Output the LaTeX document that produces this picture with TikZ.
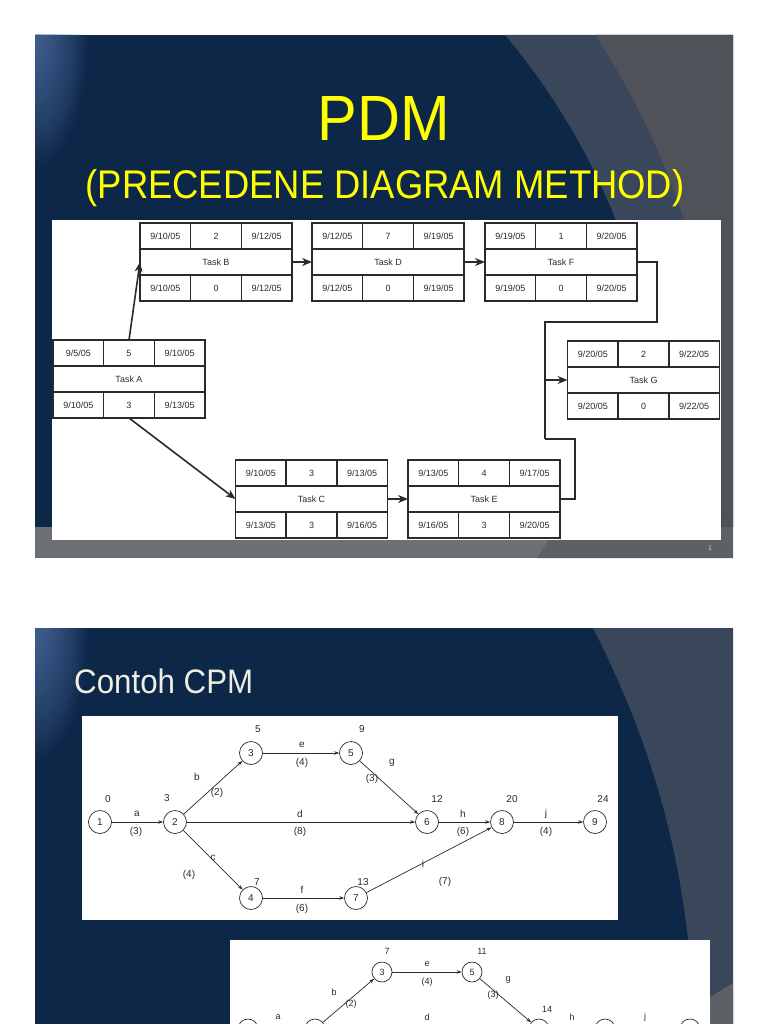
\documentclass[tikz,border=0pt]{standalone}
\usepackage{fontspec}
\setmainfont{Liberation Sans}
\usetikzlibrary{arrows.meta,positioning,calc}
\definecolor{slidenavy}{HTML}{0D2749}
\definecolor{glowblue}{HTML}{6A8BC0}
\definecolor{bandblue}{HTML}{3A4659}
\definecolor{bandgrey}{HTML}{4F5258}
\definecolor{barlight}{HTML}{6D7075}
\definecolor{bardark}{HTML}{5D6065}
\definecolor{titleyellow}{HTML}{FFFF00}
\definecolor{titlewhite}{HTML}{F0EEE2}
\definecolor{inkgrey}{HTML}{2A2A2A}
\tikzset{
  task/.style={draw=inkgrey,line width=1.4pt,fill=white,minimum width=152pt,minimum height=26pt,inner sep=0pt,outer sep=0pt,font=\fontsize{9}{10}\selectfont,text=inkgrey},
  cell/.style={task,minimum width=50.67pt},
  arr/.style={-{Stealth[length=10pt,width=8pt]},line width=1.6pt,draw=inkgrey},
  link/.style={line width=1.6pt,draw=inkgrey},
  event/.style={draw=inkgrey,circle,line width=0.7pt,minimum size=23pt,inner sep=0pt,fill=white,text=inkgrey,font=\fontsize{10}{11}\selectfont},
  smallevent/.style={event,minimum size=20pt,font=\fontsize{9}{10}\selectfont},
  lbl/.style={inner sep=0pt,text=inkgrey,font=\fontsize{10}{11}\selectfont},
  smalllbl/.style={lbl,font=\fontsize{9}{10}\selectfont},
  cpmarr/.style={-{Stealth[length=5pt,width=3.5pt]},line width=0.7pt,draw=inkgrey},
}

\begin{document}
\begin{tikzpicture}[x=1pt,y=-1pt]
 \useasboundingbox (0,0) rectangle (768,1024);
 \clip (0,0) rectangle (768,1024);
 \fill[white] (0,0) rectangle (768,1024);
 % slide 1 background
 \fill[slidenavy] (35,35) rectangle (733,558);
 \begin{scope}
  \clip (35,35) rectangle (733,558);
  \foreach \r in {1,...,24}
   \fill[glowblue,opacity=0.04] (35,35) ellipse ({2.2*\r} and {5.5*\r});
 \end{scope}
 \fill[bandblue] (505,35) .. controls (560,100) and (605,180) .. (630,260) .. controls (650,330) and (665,420) .. (675,527) -- (733,527) -- (733,35) -- cycle;
 \fill[bandgrey] (595,35) .. controls (635,95) and (670,170) .. (690,240) .. controls (705,300) and (715,400) .. (722,527) -- (733,527) -- (733,35) -- cycle;
 \fill[barlight] (35,527) rectangle (733,558);
 \fill[bardark] (537,558) -- (557,527) -- (733,527) -- (733,558) -- cycle;
 \fill[white] (52,220) rectangle (721,540);
 \node[text=titleyellow,font=\fontsize{64}{64}\selectfont] (pdm) at (384,118) {\scalebox{0.93}[1]{PDM}};
 \node[text=titleyellow,font=\fontsize{40}{40}\selectfont,anchor=base] (subtitle) at (385,199) {\scalebox{0.91}[1]{(PRECEDENE DIAGRAM METHOD)}};
 \node[text=gray!40,font=\fontsize{7}{8}\selectfont] (pageno) at (710,548) {1};
 % PDM boxes
 \def\pdmbox#1#2#3#4#5#6#7#8#9{%
  \node[task] (#1) at (#2) {#6};
  \node[cell,anchor=south west] (#1es) at (#1.north west) {#3};
  \node[cell,anchor=south] (#1dur) at (#1.north) {#4};
  \node[cell,anchor=south east] (#1ef) at (#1.north east) {#5};
  \node[cell,anchor=north west] (#1ls) at (#1.south west) {#7};
  \node[cell,anchor=north] (#1fl) at (#1.south) {#8};
  \node[cell,anchor=north east] (#1lf) at (#1.south east) {#9};}
 \pdmbox{A}{129,379}{9/5/05}{5}{9/10/05}{Task A}{9/10/05}{3}{9/13/05}
 \pdmbox{B}{216,262}{9/10/05}{2}{9/12/05}{Task B}{9/10/05}{0}{9/12/05}
 \pdmbox{D}{388,262}{9/12/05}{7}{9/19/05}{Task D}{9/12/05}{0}{9/19/05}
 \pdmbox{F}{561,262}{9/19/05}{1}{9/20/05}{Task F}{9/19/05}{0}{9/20/05}
 \pdmbox{G}{643.5,380}{9/20/05}{2}{9/22/05}{Task G}{9/20/05}{0}{9/22/05}
 \pdmbox{C}{311.5,499}{9/10/05}{3}{9/13/05}{Task C}{9/13/05}{3}{9/16/05}
 \pdmbox{E}{484,499}{9/13/05}{4}{9/17/05}{Task E}{9/16/05}{3}{9/20/05}
 \draw[arr] (Adur.north) -- (B.west);
 \draw[arr] (Afl.south) -- (C.west);
 \draw[arr] (B.east) -- (D.west);
 \draw[arr] (D.east) -- (F.west);
 \draw[arr] (C.east) -- (E.west);
 \coordinate (bustop) at (545,322);
 \coordinate (busbot) at (545,439);
 \draw[link] (F.east) -- ++(20,0) |- (bustop) -- (busbot);
 \draw[link] (E.east) -- ++(15,0) |- (busbot);
 \draw[arr] (bustop |- G.west) -- (G.west);

 % slide 2 background
 \fill[slidenavy] (35,628) rectangle (733,1024);
 \begin{scope}
  \clip (35,628) rectangle (733,1024);
  \foreach \r in {1,...,24}
   \fill[glowblue,opacity=0.04] (35,628) ellipse ({2.2*\r} and {5.5*\r});
 \end{scope}
 \fill[bandblue] (593,628) .. controls (640,720) and (675,820) .. (688,940) -- (692,1024) -- (733,1024) -- (733,628) -- cycle;
 \fill[bardark] (710,997) -- (733,983) -- (733,1024) -- (710,1024) -- cycle;
 \node[text=titlewhite,font=\fontsize{34}{34}\selectfont,anchor=base west,inner sep=0pt] (cpmtitle) at (74,693) {\scalebox{0.92}[1]{Contoh CPM}};
 \fill[white] (82,716) rectangle (618,920);
 \fill[white] (230,940) rectangle (710,1024);
 % CPM network, first panel
 \foreach \n/\x/\y in {1/100/822,2/175/822,3/251/753,5/351/753,4/251/898,7/356/898,6/427/822,8/502/822,9/595/822}
  \node[event] (e\n) at (\x,\y) {\n};
 \foreach \s/\t in {1/2,2/3,3/5,5/6,2/6,2/4,4/7,6/8,8/9,7/8}
  \draw[cpmarr] (e\s) -- (e\t);
 \foreach \n/\x/\y/\t in {1/108/799/0,2/167/798/3,3/258/729/5,5/362/729/9,4/257/882/7,7/363/882/13,6/437/799/12,8/512/799/20,9/603/799/24}
  \node[lbl] (t\n) at (\x,\y) {\t};
 \foreach \a/\x/\y/\u/\v/\d in {a/137/814/136/832/3,b/197/777/217/793/2,c/213/858/189/875/4,d/300/814/300/832/8,e/302/745/302/763/4,f/302/890/302/909/6,g/392/763/372/779/3,h/463/814/463/832/6,i/423/864/445/882/7,j/546/814/546/832/4}
  {\node[lbl] (act\a) at (\x,\y) {\a}; \node[lbl] (dur\a) at (\u,\v) {(\d)};}
 % CPM network, second panel (runs off the page)
 \foreach \n/\x/\y in {3/382/972,5/472/972}
  \node[smallevent] (f\n) at (\x,\y) {\n};
 \foreach \n/\x in {1/248,2/315,6/539,8/605,9/690}
  \node[smallevent] (f\n) at (\x,1029) {};
 \foreach \s/\t in {1/2,2/3,3/5,5/6,2/6,6/8,8/9}
  \draw[cpmarr] (f\s) -- (f\t);
 \foreach \n/\x/\y/\t in {3/387/951/7,5/482/951/11,6/547/1009/14}
  \node[smalllbl] (u\n) at (\x,\y) {\t};
 \foreach \a/\x/\y/\u/\v/\d in {b/334/992/351/1004/2,e/427/964/427/982/4,g/508/980/493/995/3}
  {\node[smalllbl] (bact\a) at (\x,\y) {\a}; \node[smalllbl] (bdur\a) at (\u,\v) {(\d)};}
 \foreach \a/\x in {a/278,d/427,h/572,j/645}
  \node[smalllbl] (bact\a) at (\x,1017) {\a};
\end{tikzpicture}
\end{document}
